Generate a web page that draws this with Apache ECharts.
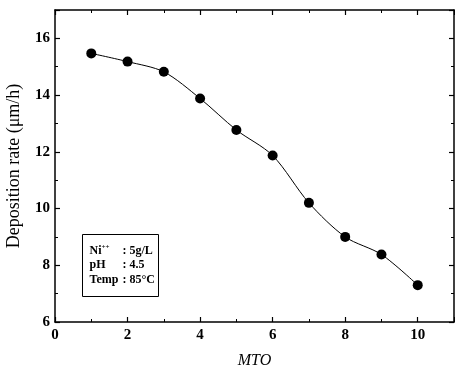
<!DOCTYPE html>
<html><head><meta charset="utf-8">
<script src="https://cdn.jsdelivr.net/npm/echarts@6/dist/echarts.min.js"></script>
<style>html,body{margin:0;padding:0;background:#fff}#c{width:455px;height:370px}</style>
</head><body><div id="c"></div>
<script>
var mto = [1, 2, 3, 4, 5, 6, 7, 8, 9, 10];
var rate = [15.47, 15.18, 14.82, 13.88, 12.77, 11.87, 10.2, 9.0, 8.38, 7.3];
var xTicks = [0, 2, 4, 6, 8, 10];
var yTicks = [6, 8, 10, 12, 14, 16];
var noteLabels = ['pH', 'Temp'];
var noteValues = [': 5g/L', ': 4.5', ': 85\u00B0C'];

var font = 'Liberation Serif, Times New Roman, serif';
var chart = echarts.init(document.getElementById('c'));
function axisCommon(show) {
  return {
    axisLine: {show: true, onZero: false, lineStyle: {color: '#000', width: 1.5}},
    axisTick: {show: true, inside: true, length: 5, lineStyle: {color: '#000', width: 1.2}},
    minorTick: {show: true, splitNumber: 2, length: 3, lineStyle: {color: '#000', width: 1}},
    splitLine: {show: false},
    axisLabel: {show: show, color: '#000', fontFamily: font, fontWeight: 'bold', fontSize: 15, margin: 5}
  };
}
var xb = Object.assign(axisCommon(true), {type: 'value', min: 0, max: 11, interval: 2, position: 'bottom',
  name: 'MTO', nameLocation: 'middle', nameGap: 31,
  nameTextStyle: {color: '#000', fontFamily: font, fontSize: 16, fontStyle: 'italic'}});
xb.axisLabel.formatter = function (v) { return xTicks.indexOf(v) >= 0 ? String(v) : ''; };
xb.axisLabel.margin = 6;
var xt = Object.assign(axisCommon(false), {type: 'value', min: 0, max: 11, interval: 2, position: 'top'});
var yl = Object.assign(axisCommon(true), {type: 'value', min: 6, max: 17, interval: 2, position: 'left',
  name: 'Deposition rate (\u03BCm/h)', nameLocation: 'middle', nameGap: 32,
  nameTextStyle: {color: '#000', fontFamily: font, fontSize: 18}});
yl.axisLabel.formatter = function (v) { return yTicks.indexOf(v) >= 0 ? String(v) : ''; };
var yr = Object.assign(axisCommon(false), {type: 'value', min: 6, max: 17, interval: 2, position: 'right'});

var noteText = '{n|Ni}{s|++}{b|' + noteValues[0] + '}\n' +
  noteLabels.map(function (l, i) { return '{a|' + l + '}{b|' + noteValues[i + 1] + '}'; }).join('\n');
var base = {fontFamily: font, fontSize: 12, fontWeight: 'bold', lineHeight: 14.5, fill: '#000', color: '#000'};

chart.setOption({
  animation: false,
  backgroundColor: '#fff',
  grid: {left: 55, right: 1, top: 10, bottom: 48, outerBoundsMode: 'none', containLabel: false},
  xAxis: [xb, xt],
  yAxis: [yl, yr],
  series: [{
    type: 'line', xAxisIndex: 0, yAxisIndex: 0,
    data: mto.map(function (x, i) { return [x, rate[i]]; }),
    smooth: 0.3, symbol: 'circle', symbolSize: 10,
    lineStyle: {color: '#000', width: 1},
    itemStyle: {color: '#000'}
  }],
  graphic: [{
    type: 'group', left: 82, top: 234,
    children: [
      {type: 'rect', shape: {x: 0, y: 0, width: 76, height: 62}, style: {fill: '#fff', stroke: '#000', lineWidth: 1}},
      {type: 'text', x: 7, y: 9, style: Object.assign({}, base, {
        text: noteText,
        rich: {
          n: Object.assign({}, base),
          s: Object.assign({}, base, {fontSize: 7, width: 21, verticalAlign: 'top', lineHeight: 14.5}),
          a: Object.assign({}, base, {width: 33}),
          b: Object.assign({}, base)
        }
      })}
    ]
  }]
});
</script></body></html>
